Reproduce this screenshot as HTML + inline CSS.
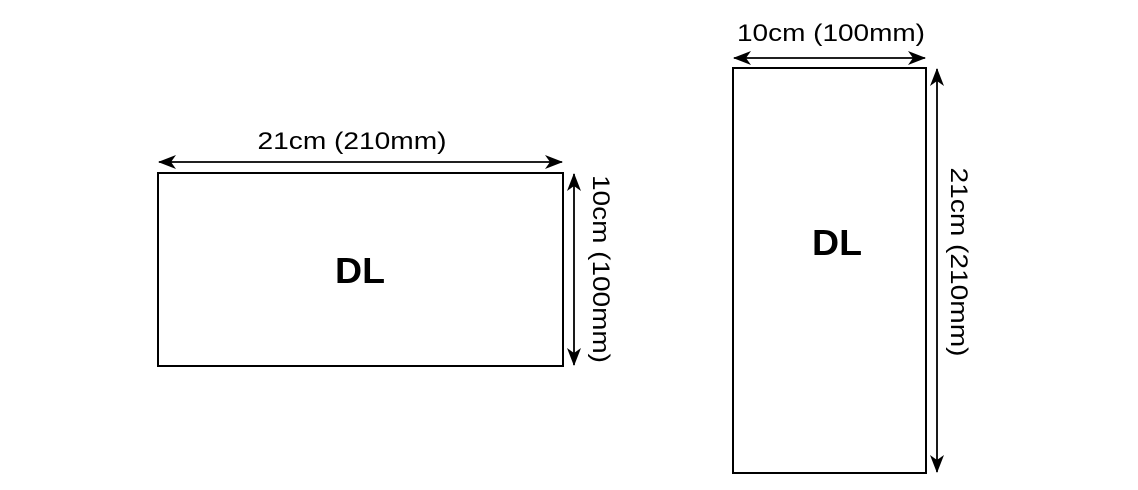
<!DOCTYPE html>
<html><head><style>body{margin:0;background:#fff}svg{display:block}</style></head><body>
<svg width="1138" height="490" viewBox="0 0 1138 490" xmlns="http://www.w3.org/2000/svg" font-family="Liberation Sans, sans-serif">
<defs>
<marker id="a" viewBox="0 0 18 14" refX="17" refY="7" markerWidth="18" markerHeight="14" markerUnits="userSpaceOnUse" orient="auto-start-reverse">
<path d="M0,0 L18,7 L0,14 L5,7 Z" fill="#000"/></marker>
</defs>
<g fill="none" stroke="#000" stroke-width="2">
<rect x="158" y="173" width="405" height="193"/>
<rect x="733" y="68" width="193" height="405"/>
</g>
<g stroke="#000" stroke-width="1.8">
<line x1="159" y1="162" x2="562" y2="162" marker-start="url(#a)" marker-end="url(#a)"/>
<line x1="574" y1="174" x2="574" y2="365" marker-start="url(#a)" marker-end="url(#a)"/>
<line x1="734" y1="58" x2="925" y2="58" marker-start="url(#a)" marker-end="url(#a)"/>
<line x1="937" y1="69" x2="937" y2="472" marker-start="url(#a)" marker-end="url(#a)"/>
</g>
<g font-size="24" fill="#000" text-anchor="middle">
<text x="352" y="149" textLength="189" lengthAdjust="spacingAndGlyphs">21cm (210mm)</text>
<text x="831" y="41" textLength="188" lengthAdjust="spacingAndGlyphs">10cm (100mm)</text>
<text transform="translate(593,269) rotate(90)" textLength="188" lengthAdjust="spacingAndGlyphs">10cm (100mm)</text>
<text transform="translate(951,262) rotate(90)" textLength="189" lengthAdjust="spacingAndGlyphs">21cm (210mm)</text>
</g>
<g font-size="36" font-weight="bold" text-anchor="middle">
<text x="360" y="283" textLength="50" lengthAdjust="spacingAndGlyphs">DL</text>
<text x="837" y="255" textLength="50" lengthAdjust="spacingAndGlyphs">DL</text>
</g>
</svg>
</body></html>
